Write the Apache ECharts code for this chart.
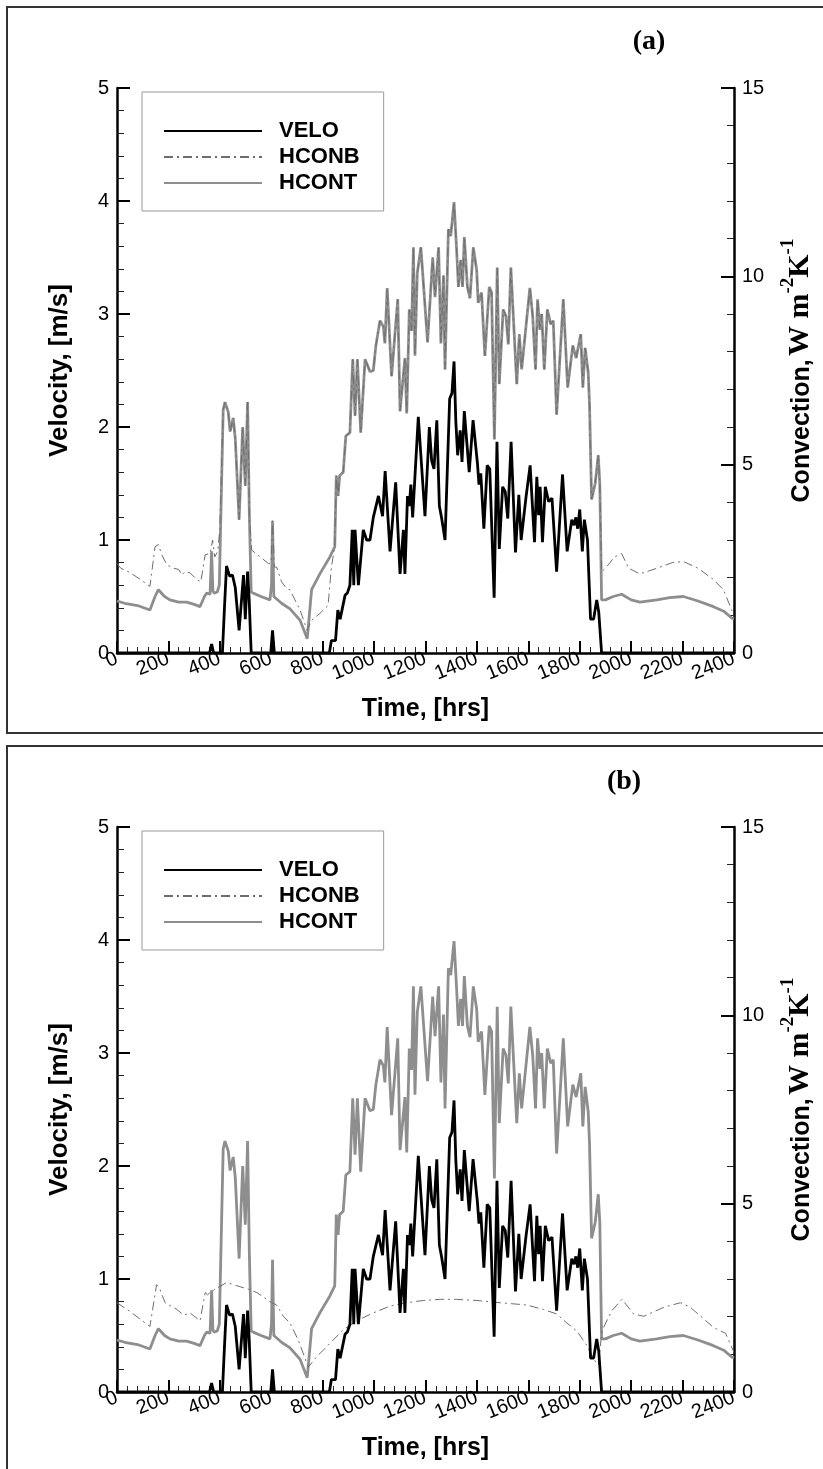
<!DOCTYPE html>
<html><head><meta charset="utf-8">
<script src="https://cdn.jsdelivr.net/npm/echarts@6/dist/echarts.min.js"></script>
<style>html,body{margin:0;padding:0;background:#fff}#c{width:823px;height:1469px}</style>
</head><body><div id="c"></div>
<script>
// ---- data (time in hrs; VELO in m/s; HCONB / HCONT in W m-2 K-1) ----
const velo = [[0,0],[360,0],[368,0.08],[376,0],[410,0],[418,0.4],[426,0.77],[438,0.68],[449,0.69],[460,0.58],[475,0.2],[492,0.69],[499,0.3],[508,0.72],[514,0.48],[522,0],[598,0],[605,0.2],[612,0],[826,0],[834,0.11],[850,0.11],[859,0.38],[868,0.3],[887,0.51],[896,0.53],[906,0.6],[915,1.09],[921,0.6],[926,1.09],[939,0.6],[958,1.09],[971,1.0],[984,1.0],[997,1.2],[1017,1.39],[1033,1.21],[1043,1.61],[1062,0.9],[1084,1.51],[1101,0.7],[1114,1.09],[1120,0.7],[1130,1.39],[1137,1.3],[1143,1.49],[1150,1.2],[1172,2.09],[1198,1.21],[1215,2.0],[1224,1.7],[1233,1.63],[1244,2.06],[1254,1.3],[1263,1.19],[1276,1.0],[1285,1.63],[1294,2.25],[1303,2.3],[1311,2.58],[1318,2.05],[1325,1.75],[1335,1.97],[1342,1.69],[1351,2.14],[1370,1.6],[1385,2.06],[1402,1.68],[1408,1.49],[1415,1.59],[1427,1.1],[1440,1.66],[1450,1.63],[1467,0.49],[1478,1.87],[1487,0.92],[1500,1.47],[1510,1.43],[1520,1.19],[1533,1.87],[1550,0.89],[1563,1.4],[1572,1.0],[1591,1.38],[1607,1.66],[1624,0.98],[1633,1.56],[1640,1.22],[1646,1.47],[1655,0.98],[1666,1.47],[1679,1.34],[1692,1.37],[1710,0.72],[1733,1.58],[1751,0.9],[1769,1.18],[1778,1.13],[1785,1.2],[1792,1.1],[1800,1.27],[1810,0.9],[1818,1.18],[1830,1.0],[1842,0.3],[1854,0.3],[1866,0.47],[1874,0.36],[1885,0],[2400,0]];

const hcont = [[0,1.38],[30,1.32],[80,1.26],[128,1.14],[148,1.5],[161,1.68],[185,1.5],[206,1.41],[240,1.35],[271,1.35],[300,1.29],[323,1.23],[340,1.5],[349,1.59],[362,1.56],[368,2.7],[373,1.65],[378,1.59],[390,1.62],[398,1.8],[413,6.45],[420,6.66],[433,6.39],[440,5.88],[452,6.24],[460,5.7],[475,3.54],[489,6.0],[499,4.44],[508,6.66],[515,3.6],[522,1.62],[530,1.59],[560,1.5],[595,1.41],[601,1.8],[605,3.51],[610,1.5],[620,1.44],[640,1.32],[673,1.17],[712,0.87],[740,0.38],[757,1.68],[789,2.1],[828,2.55],[847,2.82],[853,4.71],[860,4.17],[866,4.71],[880,4.8],[890,5.76],[906,5.85],[917,7.8],[926,6.3],[935,7.8],[948,5.85],[965,7.8],[984,7.47],[997,7.5],[1007,8.16],[1023,8.82],[1036,8.67],[1042,8.22],[1051,9.69],[1068,7.35],[1092,9.39],[1101,6.42],[1120,7.83],[1127,6.36],[1137,9.12],[1146,8.55],[1153,10.77],[1159,7.89],[1168,10.08],[1182,10.77],[1208,8.25],[1228,10.5],[1237,9.45],[1243,9.45],[1251,10.77],[1260,8.22],[1270,10.02],[1276,7.53],[1289,11.25],[1298,11.07],[1311,11.97],[1321,10.71],[1328,9.72],[1337,10.44],[1344,9.72],[1351,11.04],[1363,9.72],[1373,9.42],[1386,10.77],[1399,10.17],[1405,9.3],[1418,9.57],[1431,7.89],[1448,9.72],[1457,9.57],[1468,5.67],[1479,10.23],[1487,7.14],[1502,9.12],[1513,8.94],[1522,8.19],[1532,10.23],[1555,7.14],[1565,8.46],[1574,7.53],[1593,8.82],[1606,9.69],[1617,8.94],[1628,7.53],[1636,9.39],[1645,8.58],[1652,9.0],[1662,7.53],[1674,9.12],[1687,8.73],[1697,8.82],[1710,6.33],[1736,9.39],[1753,7.05],[1773,8.16],[1786,7.83],[1804,8.46],[1812,7.05],[1821,8.1],[1833,7.44],[1838,6.6],[1846,4.08],[1860,4.5],[1872,5.25],[1878,4.5],[1885,1.41],[1900,1.41],[1930,1.5],[1963,1.56],[2000,1.41],[2034,1.35],[2100,1.41],[2150,1.47],[2203,1.5],[2260,1.38],[2320,1.23],[2360,1.11],[2391,0.93],[2400,0.9]];

// HCONB, panel (a): own segments; where it lies on HCONT it is taken from HCONT
const hconbA_early = [[0,2.37],[15,2.25],[52,2.13],[91,1.95],[128,1.77],[148,2.82],[161,2.88],[174,2.61],[194,2.34],[220,2.25],[240,2.22],[252,2.07],[265,2.16],[284,2.13],[310,1.95],[326,1.89],[343,2.61],[362,2.64],[372,3.0],[380,2.55],[392,2.7],[400,3.3]];
const hconbA_mid = [[524,2.73],[557,2.55],[590,2.37],[600,2.4],[605,3.51],[612,2.28],[621,2.28],[640,1.89],[660,1.71],[673,1.68],[692,1.41],[712,1.14],[740,0.6],[757,0.87],[789,1.05],[821,1.26],[834,2.28],[847,2.82]];
const hconbA_late = [[1885,2.16],[1900,2.25],[1935,2.55],[1963,2.64],[1990,2.25],[2034,2.1],[2100,2.25],[2160,2.4],[2203,2.43],[2260,2.25],[2320,1.95],[2359,1.68],[2391,1.14],[2400,1.0]];
const hconbA_onHcont = [[405,515],[853,1878]];

// HCONB, panel (b)
const hconbB = [[0,2.37],[52,2.13],[128,1.74],[154,2.85],[165,2.76],[187,2.37],[233,2.19],[259,2.04],[284,2.1],[323,1.89],[343,2.64],[352,2.58],[362,2.64],[382,2.73],[427,2.91],[466,2.82],[511,2.73],[544,2.64],[595,2.4],[621,2.31],[647,2.01],[673,1.83],[705,1.38],[744,0.66],[776,0.93],[828,1.29],[880,1.65],[932,1.89],[997,2.1],[1062,2.28],[1127,2.37],[1192,2.43],[1257,2.46],[1320,2.46],[1400,2.43],[1490,2.37],[1594,2.31],[1659,2.19],[1711,2.07],[1750,1.83],[1789,1.62],[1828,1.23],[1854,0.87],[1873,0.72],[1886,1.62],[1925,2.16],[1964,2.46],[2010,2.07],[2049,2.01],[2127,2.25],[2192,2.37],[2230,2.25],[2321,1.71],[2367,1.56],[2400,1.05]];

const legendNames = ['VELO','HCONB','HCONT'];
const panelLabels = ['(a)','(b)'];

// ---- build ----
const seg = r => hcont.filter(p => p[0] >= r[0] && p[0] <= r[1]);
const hconbA = [].concat(hconbA_early, seg(hconbA_onHcont[0]), hconbA_mid, seg(hconbA_onHcont[1]), hconbA_late);

const SANS = '"Liberation Sans", Arial, Helvetica, sans-serif';
const SERIF = '"Liberation Serif", "Times New Roman", serif';
const OFF = 739;
const GT = [88, 88 + OFF];
const GH = 565;
const plain = v => String(v);

const chart = echarts.init(document.getElementById('c'), null, {renderer: 'canvas'});

function xAx(gi) {
  return {
    gridIndex: gi, type: 'value', min: 0, max: 2400, interval: 200,
    name: 'Time, [hrs]', nameLocation: 'middle', nameGap: 44,
    nameTextStyle: {fontFamily: SANS, fontWeight: 'bold', fontSize: 25, color: '#000'},
    axisLine: {show: true, onZero: false, lineStyle: {color: '#000', width: 2.5}},
    axisTick: {show: true, inside: true, length: 12, lineStyle: {color: '#000', width: 2}},
    minorTick: {show: true, splitNumber: 5, length: 6, lineStyle: {color: '#222', width: 1}},
    axisLabel: {rotate: 22, margin: 5, fontFamily: SANS, fontSize: 20, color: '#000', formatter: plain,
                showMinLabel: true, showMaxLabel: true, hideOverlap: false},
    splitLine: {show: false}, minorSplitLine: {show: false}
  };
}
function yAx(gi, right) {
  const base = {
    gridIndex: gi, type: 'value', min: 0, max: right ? 15 : 5, interval: right ? 5 : 1,
    position: right ? 'right' : 'left',
    nameLocation: 'middle', nameRotate: 90, nameGap: right ? 45 : 44,
    axisLine: {show: true, onZero: false, lineStyle: {color: '#000', width: 2.5}},
    axisTick: {show: true, inside: true, length: 13, lineStyle: {color: '#000', width: 2}},
    minorTick: {show: true, splitNumber: 5, length: 7, lineStyle: {color: '#222', width: 1}},
    axisLabel: {margin: 8, fontFamily: SANS, fontSize: 20, color: '#000', formatter: plain, showMinLabel: true, showMaxLabel: true},
    splitLine: {show: false}, minorSplitLine: {show: false}
  };
  if (!right) {
    base.name = 'Velocity, [m/s]';
    base.nameTextStyle = {fontFamily: SANS, fontWeight: 'bold', fontSize: 26, color: '#000'};
  } else {
    base.name = '{a|Convection,} {b|W m}{s|-2}{b|K}{s|-1}';
    base.nameTextStyle = {
      color: '#000',
      rich: {
        a: {fontFamily: SANS, fontWeight: 'bold', fontSize: 25, lineHeight: 36, verticalAlign: 'bottom', color: '#000'},
        b: {fontFamily: SERIF, fontWeight: 'bold', fontSize: 30, lineHeight: 36, verticalAlign: 'bottom', color: '#000'},
        s: {fontFamily: SERIF, fontWeight: 'bold', fontSize: 19, lineHeight: 36, verticalAlign: 'top', color: '#000'}
      }
    };
  }
  return base;
}
function legendCfg(i) {
  return {
    data: legendNames, orient: 'vertical', left: 142, top: 92 + i * OFF,
    itemWidth: 98, itemHeight: 14, itemGap: 4, padding: [28, 24, 17, 21],
    borderColor: '#999', borderWidth: 1, backgroundColor: '#fff',
    selectedMode: false,
    itemStyle: {opacity: 0},
    textStyle: {fontFamily: SANS, fontWeight: 'bold', fontSize: 22, color: '#000', padding: [0, 0, 0, 12]}
  };
}
function seriesFor(i, hconb) {
  const xi = i, yl = i * 2, yr = i * 2 + 1;
  return [
    {name: 'HCONT', type: 'line', xAxisIndex: xi, yAxisIndex: yr, data: hcont, symbol: 'none', showSymbol: false,
     color: '#8e8e8e', lineStyle: {color: '#8e8e8e', width: 2.8}, z: 2},
    {name: 'HCONB', type: 'line', xAxisIndex: xi, yAxisIndex: yr, data: hconb, symbol: 'none', showSymbol: false,
     color: '#6e6e6e', lineStyle: {color: '#6e6e6e', width: 1, type: [9, 4, 2, 4]}, z: 3},
    {name: 'VELO', type: 'line', xAxisIndex: xi, yAxisIndex: yl, data: velo, symbol: 'none', showSymbol: false,
     color: '#000', lineStyle: {color: '#000', width: 2.8}, z: 4}
  ];
}

const graphics = [];
[0, 1].forEach(i => {
  graphics.push({type: 'rect', shape: {x: 7, y: 7 + i * OFF, width: 840, height: 726}, style: {fill: 'none', stroke: '#333', lineWidth: 2}, z: 0});
  graphics.push({type: 'text', x: i ? 624 : 649, y: 42 + i * (OFF + 1),
    style: {text: panelLabels[i], font: 'bold 28px ' + SERIF, fill: '#000', align: 'center', verticalAlign: 'middle'}});
});

chart.setOption({
  animation: false,
  backgroundColor: '#fff',
  grid: [0, 1].map(i => ({left: 117, width: 617, top: GT[i], height: GH, containLabel: false, outerBoundsMode: 'none'})),
  xAxis: [xAx(0), xAx(1)],
  yAxis: [yAx(0, false), yAx(0, true), yAx(1, false), yAx(1, true)],
  legend: [legendCfg(0), legendCfg(1)],
  graphic: graphics,
  series: [].concat(seriesFor(0, hconbA), seriesFor(1, hconbB))
});
</script></body></html>
